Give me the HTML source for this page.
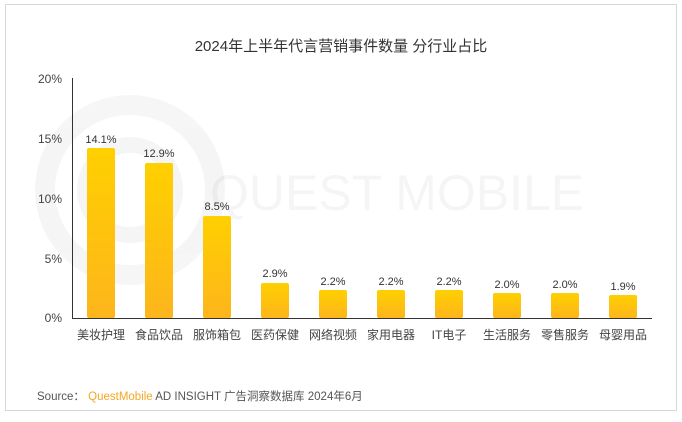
<!DOCTYPE html>
<html><head><meta charset="utf-8"><style>
body{margin:0;background:#fff;width:682px;height:417px;overflow:hidden}
text{font-family:"Liberation Sans","Noto Sans CJK SC",sans-serif}
</style></head><body>
<svg width="682" height="417" xmlns="http://www.w3.org/2000/svg">
<defs><linearGradient id="g" x1="0" y1="0" x2="0" y2="1"><stop offset="0" stop-color="#FFD000"/><stop offset="1" stop-color="#FDB51C"/></linearGradient></defs>
<rect x="5.5" y="4.5" width="671" height="406" fill="#fff" stroke="#d8d8d8"/>
<g opacity="0.035" fill="none" stroke="#000">
<circle cx="130" cy="190" r="85" stroke-width="20"/>
<circle cx="130" cy="190" r="45" stroke-width="16"/>
</g>
<text x="210" y="210" font-size="50" fill="#000" opacity="0.035">QUEST MOBILE</text>
<text x="341" y="51" font-size="15" text-anchor="middle" fill="#333">2024年上半年代言营销事件数量 分行业占比</text>
<g font-size="12" fill="#444" text-anchor="end">
<text x="62" y="83">20%</text><text x="62" y="143">15%</text><text x="62" y="203">10%</text><text x="62" y="263">5%</text><text x="62" y="322">0%</text>
</g>
<line x1="72.5" y1="78" x2="72.5" y2="318" stroke="#333"/>
<line x1="72" y1="318.5" x2="652" y2="318.5" stroke="#333"/>
<g fill="url(#g)">
<rect x="87" y="148" width="28" height="170" rx="2"/>
<rect x="145" y="163" width="28" height="155" rx="2"/>
<rect x="203" y="216" width="28" height="102" rx="2"/>
<rect x="261" y="283" width="28" height="35" rx="2"/>
<rect x="319" y="290" width="28" height="28" rx="2"/>
<rect x="377" y="290" width="28" height="28" rx="2"/>
<rect x="435" y="290" width="28" height="28" rx="2"/>
<rect x="493" y="293" width="28" height="25" rx="2"/>
<rect x="551" y="293" width="28" height="25" rx="2"/>
<rect x="609" y="295" width="28" height="23" rx="2"/>
</g>
<g font-size="11" fill="#333" text-anchor="middle">
<text x="101" y="143">14.1%</text><text x="159" y="157">12.9%</text><text x="217" y="210">8.5%</text>
<text x="275" y="277">2.9%</text><text x="333" y="285">2.2%</text><text x="391" y="285">2.2%</text>
<text x="449" y="285">2.2%</text><text x="507" y="288">2.0%</text><text x="565" y="288">2.0%</text><text x="623" y="290">1.9%</text>
</g>
<g font-size="12" fill="#444" text-anchor="middle">
<text x="101" y="339">美妆护理</text><text x="159" y="339">食品饮品</text><text x="217" y="339">服饰箱包</text>
<text x="275" y="339">医药保健</text><text x="333" y="339">网络视频</text><text x="391" y="339">家用电器</text>
<text x="449" y="339">IT电子</text><text x="507" y="339">生活服务</text><text x="565" y="339">零售服务</text><text x="623" y="339">母婴用品</text>
</g>
<text x="37" y="400" font-size="11.5" fill="#555">Source： <tspan fill="#F5A623">QuestMobile</tspan> AD INSIGHT 广告洞察数据库 2024年6月</text>
</svg>
</body></html>
